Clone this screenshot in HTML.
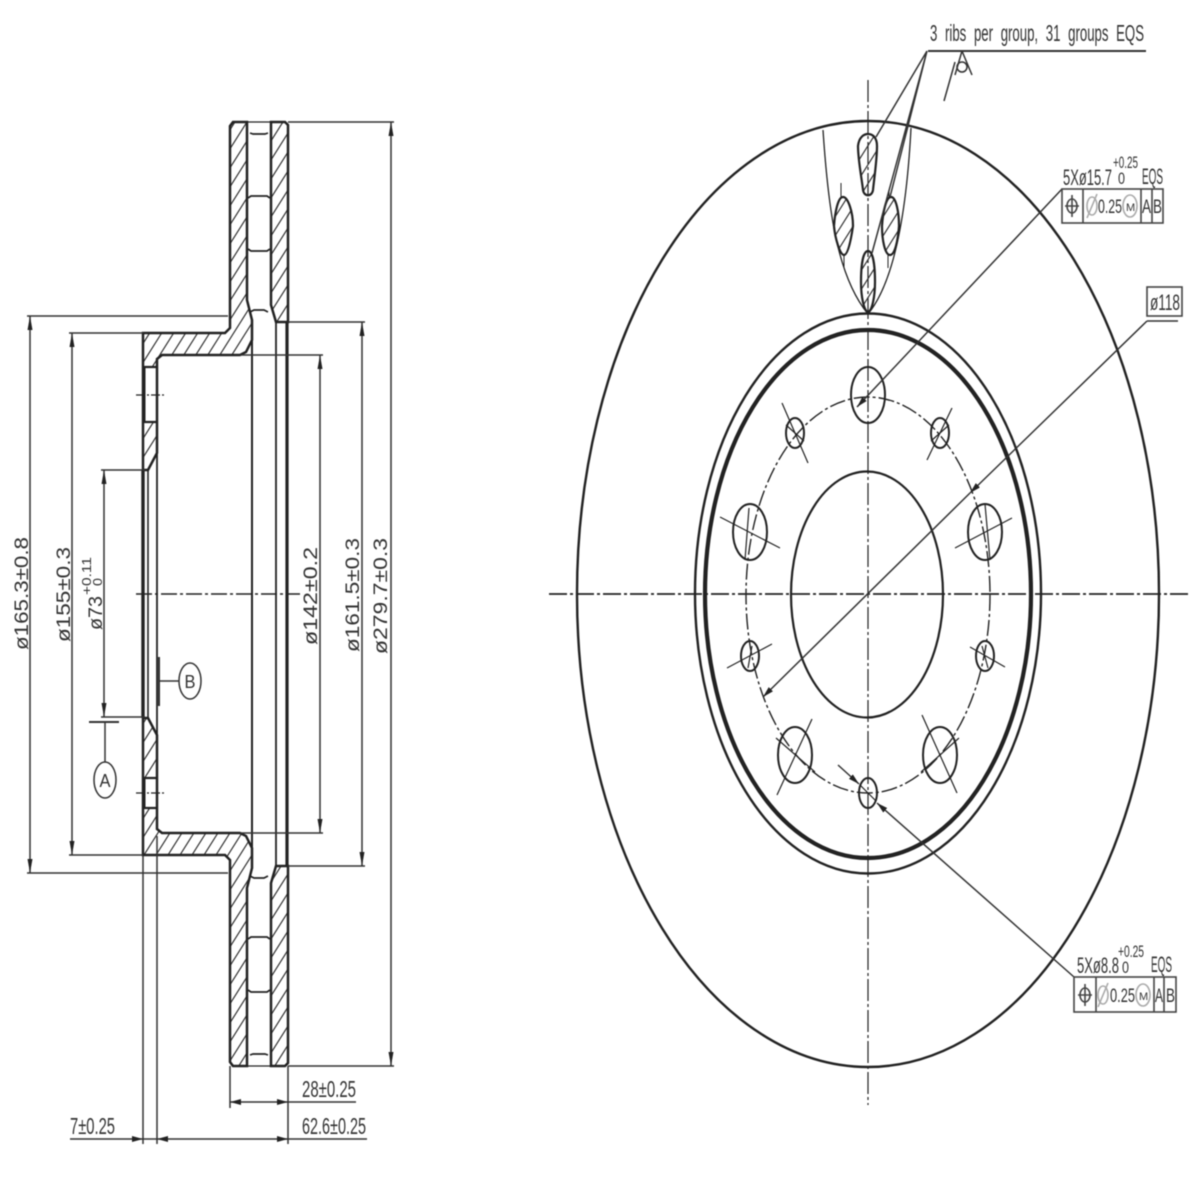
<!DOCTYPE html>
<html><head><meta charset="utf-8"><style>
html,body{margin:0;padding:0;background:#fff}
svg{display:block;filter:blur(.45px)}
text{font-family:"Liberation Sans",sans-serif;fill:#333}
</style></head><body>
<svg width="1200" height="1200" viewBox="0 0 1200 1200" xmlns="http://www.w3.org/2000/svg">
<defs>
<pattern id="h1" patternUnits="userSpaceOnUse" width="12" height="19"><path d="M-3,23.75L15,-4.75M-15,23.75L3,-4.75M9,23.75L27,-4.75" stroke="#333" stroke-width="1.2"/></pattern>
<marker id="v" viewBox="0 0 14 5" refX="14" refY="2.5" markerUnits="userSpaceOnUse" markerWidth="14" markerHeight="5" orient="auto-start-reverse"><path d="M0,0L14,2.5L0,5z" fill="#222"/></marker>
<marker id="d" viewBox="0 0 11 6" refX="11" refY="3" markerUnits="userSpaceOnUse" markerWidth="11" markerHeight="6" orient="auto-start-reverse"><path d="M0,0L11,3L0,6z" fill="#222"/></marker>
<g id="half" fill="none" stroke="#222">
 <path d="M230,126L233,122H247V300L252,320V340L246,352L240,355H162L157,359V453L148,470H143V333H225L230,328Z" stroke-width="2.5"/>
 <path d="M271,122H285L288,125V322H276L271,305V122Z" stroke-width="2.5"/>
 <path d="M247,122H271" stroke-width="1.2"/>
 <path d="M250,133L253,134H265L268,133M248,198L251,196H267L270,198M248,249L251,251H267L270,249M250,312L254,310H264L268,312" stroke-width="1.7"/>
</g>
</defs>

<!-- LEFT VIEW hatching -->
<g stroke="none">
 <path d="M230,126L233,122H247V300L252,320V340L246,352L240,355H162L157,359V367H143V333H225L230,328Z" fill="url(#h1)"/>
 <path d="M143,422H157V453L148,470H143Z" fill="url(#h1)"/>
 <path d="M271,122H285L288,125V322H276L271,305Z" fill="url(#h1)"/>
 <path d="M230,1062L233,1066H247V888L252,868V848L246,836L240,833H162L157,829V808H143V855H225L230,860Z" fill="url(#h1)"/>
 <path d="M143,778H157V735L148,718H143Z" fill="url(#h1)"/>
 <path d="M271,1066H285L288,1063V866H276L271,883Z" fill="url(#h1)"/>
</g>
<use href="#half"/>
<use href="#half" transform="translate(0,1188) scale(1,-1)"/>

<g fill="none" stroke="#222">
 <path d="M143,367H157M143,422H157M143,778H157M143,808H157" stroke-width="2.2"/>
 <path d="M144,367V422M144,778V808" stroke-width="3"/>
 <path d="M136,395H164M136,793H164" stroke-width="1.2" stroke-dasharray="9 2 2 2"/>
 <path d="M143,470V718" stroke-width="3.4"/>
 <path d="M148,470V718" stroke-width="1.6"/>
 <path d="M157,453V735" stroke-width="1.8"/>
 <path d="M252,340V848" stroke-width="2"/>
 <path d="M276,322V866" stroke-width="1.8"/>
 <path d="M287,322V866" stroke-width="3.2"/>
 <path d="M136,594H300" stroke-width="1.5" stroke-dasharray="16 3 3 3"/>
</g>

<!-- left dims -->
<g fill="none" stroke="#333" stroke-width="1.5">
 <path d="M288,122H394M288,1066H394M288,322H365M288,866H365M240,355H323M240,833H323"/>
 <path d="M27,316H228M27,873H228M69,333H143M69,855H143M101,470H145M101,717H145"/>
 <path d="M391,122V1066" marker-start="url(#v)" marker-end="url(#v)"/>
 <path d="M362,322V866" marker-start="url(#v)" marker-end="url(#v)"/>
 <path d="M320,355V833" marker-start="url(#v)" marker-end="url(#v)"/>
 <path d="M30,316V873" marker-start="url(#v)" marker-end="url(#v)"/>
 <path d="M72,333V855" marker-start="url(#v)" marker-end="url(#v)"/>
 <path d="M104,470V717" marker-start="url(#v)" marker-end="url(#v)"/>
 <path d="M89,722H119" stroke-width="2"/>
 <path d="M105,722V762"/>
 <ellipse cx="105" cy="780" rx="11" ry="18" stroke-width="1.5"/>
 <path d="M159,657V706" stroke-width="2"/>
 <path d="M159,681H179"/>
 <ellipse cx="190" cy="681" rx="11" ry="18" stroke-width="1.5"/>
 <path d="M143,856V1144M157,836V1144M230,1066V1108M288,1066V1144"/>
 <path d="M230,1102H288" marker-start="url(#d)" marker-end="url(#d)"/>
 <path d="M288,1102H356"/>
 <path d="M157,1139H288" marker-start="url(#d)" marker-end="url(#d)"/>
 <path d="M288,1139H367"/>
 <path d="M70,1139H143" marker-end="url(#d)"/>
 <path d="M143,1139H157"/>
</g>
<g font-size="23">
 <text x="302" y="1097" textLength="54" lengthAdjust="spacingAndGlyphs">28±0.25</text>
 <text x="302" y="1134" textLength="64" lengthAdjust="spacingAndGlyphs">62.6±0.25</text>
 <text x="70" y="1134" textLength="45" lengthAdjust="spacingAndGlyphs">7±0.25</text>
</g>
<g font-size="19">
 <text transform="translate(28,650) rotate(-90)" textLength="113" lengthAdjust="spacingAndGlyphs">ø165.3±0.8</text>
 <text transform="translate(70,642) rotate(-90)" textLength="95" lengthAdjust="spacingAndGlyphs">ø155±0.3</text>
 <text transform="translate(102,630) rotate(-90)" textLength="34" lengthAdjust="spacingAndGlyphs">ø73</text>
 <text transform="translate(91,595) rotate(-90)" font-size="13" textLength="38" lengthAdjust="spacingAndGlyphs">+0.11</text>
 <text transform="translate(102,586) rotate(-90)" font-size="13" textLength="8" lengthAdjust="spacingAndGlyphs">0</text>
 <text transform="translate(317,645) rotate(-90)" textLength="98" lengthAdjust="spacingAndGlyphs">ø142±0.2</text>
 <text transform="translate(359,652) rotate(-90)" textLength="114" lengthAdjust="spacingAndGlyphs">ø161.5±0.3</text>
 <text transform="translate(387,654) rotate(-90)" textLength="116" lengthAdjust="spacingAndGlyphs">ø279.7±0.3</text>
</g>
<text x="105" y="787" font-size="18" text-anchor="middle" textLength="11" lengthAdjust="spacingAndGlyphs">A</text>
<text x="190" y="688" font-size="18" text-anchor="middle" textLength="11" lengthAdjust="spacingAndGlyphs">B</text>

<!-- RIGHT VIEW -->
<g fill="none" stroke="#222">
 <ellipse cx="868" cy="594" rx="291" ry="473" stroke-width="2.4"/>
 <ellipse cx="868" cy="593.5" rx="173" ry="280" stroke-width="2.4"/>
 <ellipse cx="868" cy="594" rx="163" ry="264" stroke-width="4.2"/>
 <ellipse cx="867" cy="594.5" rx="76" ry="123" stroke-width="2.2"/>
 <ellipse cx="868" cy="595" rx="122" ry="198" stroke-width="1.4" stroke-dasharray="16 3 3 3"/>
 <path d="M549,594H1190" stroke-width="1.8" stroke-dasharray="18 3 3 3"/>
 <path d="M868,80V1105" stroke-width="1.2" stroke-dasharray="22 3 3 3"/>
 <g stroke-width="2">
  <ellipse cx="868" cy="395" rx="17" ry="28"/>
  <ellipse cx="750" cy="532" rx="17" ry="28"/>
  <ellipse cx="985" cy="532" rx="17" ry="28"/>
  <ellipse cx="795" cy="755" rx="17" ry="28"/>
  <ellipse cx="940" cy="755" rx="17" ry="28"/>
  <ellipse cx="795" cy="433" rx="9" ry="15"/>
  <ellipse cx="940" cy="433" rx="9" ry="15"/>
  <ellipse cx="750" cy="656" rx="9" ry="15"/>
  <ellipse cx="985" cy="656" rx="9" ry="15"/>
  <ellipse cx="868" cy="793" rx="9" ry="15"/>
 </g>
 <g stroke-width="1.2">
  <path d="M720,517L780,548M955,548L1012,518M782,403L808,463M952,408L927,460M727,668L772,644M970,647L1005,667M812,719L777,795M922,715L957,793"/>
  <path d="M749,508L745,560M985,504L990,560M786,425L804,441M949,425L931,441M752,646L748,668M982,646L988,668M776,738L815,772M959,738L921,772M860,785L876,801"/>
 </g>
 <!-- rib region -->
 <path d="M823,130C828,205 836,275 868,314C896,280 907,205 911,128" stroke-width="1.3"/>
 <g stroke-width="2.2" fill="url(#h1)">
  <path d="M858,146C859,137 864,134 868,134C873,134 877,138 877,146C877,160 874,180 873,190C872,197 864,197 863,190C862,180 858,160 858,146Z"/>
  <path d="M843,197C848,197 853,212 853,226C851,240 848,255 844,255C840,255 835,238 834,226C835,212 838,197 843,197Z"/>
  <path d="M891,197C896,197 899,212 899,226C898,240 895,255 890,255C885,255 882,240 882,226C883,212 886,197 891,197Z"/>
  <path d="M868,251C873,251 875,265 875,282C875,297 872,311 868,312C864,311 861,297 861,282C861,265 863,251 868,251Z"/>
 </g>
 <path d="M841,183V197M844,255V268M889,190V197M888,255V268" stroke-width="1"/>
 <!-- leaders -->
 <g stroke="#333" stroke-width="1.5">
  <path d="M928,51H1146" stroke-width="2"/>
  <path d="M927,51L876,137M927,51L890,197M927,51L872,253"/>
  <path d="M962,51L972,75M962,51L955,75M955,62L944,101"/>
  <circle cx="962" cy="67" r="5"/>
  <path d="M1062,189L857,407" marker-end="url(#d)"/>
  <path d="M1147,321H1178"/>
  <path d="M1147,321L970,493" marker-end="url(#d)"/>
  <path d="M970,493L763,697" marker-end="url(#d)"/>
  <path d="M1074,977L877,803" marker-end="url(#d)"/>
  <path d="M838,765L859,784" marker-end="url(#d)"/>
 </g>
 <!-- FCF -->
 <g stroke="#444" stroke-width="1.6">
  <rect x="1062" y="189" width="101" height="34"/>
  <path d="M1083,189V223M1141,189V223M1152,189V223"/>
  <ellipse cx="1072" cy="206" rx="5" ry="7"/>
  <path d="M1072,195V217M1065,206H1079"/>
  <ellipse cx="1130" cy="206" rx="7" ry="11" stroke="#aaa"/>
  <path d="M1087,218L1097,194" stroke="#aaa"/>
  <ellipse cx="1092" cy="206" rx="5" ry="9" stroke="#aaa"/>
  <rect x="1074" y="977" width="102" height="35"/>
  <path d="M1096,977V1012M1154,977V1012M1164,977V1012"/>
  <ellipse cx="1085" cy="995" rx="5" ry="7"/>
  <path d="M1085,984V1006M1078,995H1092"/>
  <ellipse cx="1143" cy="995" rx="7" ry="11" stroke="#aaa"/>
  <path d="M1098,1007L1108,983" stroke="#aaa"/>
  <ellipse cx="1103" cy="995" rx="5" ry="9" stroke="#aaa"/>
  <rect x="1147" y="287" width="35" height="29"/>
 </g>
</g>
<text x="930" y="41" font-size="23" word-spacing="7" textLength="214" lengthAdjust="spacingAndGlyphs">3 ribs per group, 31 groups EQS</text>
<g font-size="22">
 <text x="1063" y="185" textLength="49" lengthAdjust="spacingAndGlyphs">5Xø15.7</text>
 <text x="1142" y="184" textLength="21" lengthAdjust="spacingAndGlyphs">EQS</text>
 <text x="1118" y="184" textLength="7" font-size="17" lengthAdjust="spacingAndGlyphs">0</text>
 <text x="1113" y="168" font-size="17" textLength="25" lengthAdjust="spacingAndGlyphs">+0.25</text>
 <text x="1077" y="973" textLength="42" lengthAdjust="spacingAndGlyphs">5Xø8.8</text>
 <text x="1151" y="972" textLength="21" lengthAdjust="spacingAndGlyphs">EQS</text>
 <text x="1122" y="973" textLength="7" font-size="17" lengthAdjust="spacingAndGlyphs">0</text>
 <text x="1118" y="957" font-size="17" textLength="26" lengthAdjust="spacingAndGlyphs">+0.25</text>
</g>
<g font-size="19">
 <text x="1098" y="213" textLength="24" lengthAdjust="spacingAndGlyphs">0.25</text>
 <text x="1142" y="213" textLength="9" lengthAdjust="spacingAndGlyphs">A</text>
 <text x="1153" y="213" textLength="9" lengthAdjust="spacingAndGlyphs">B</text>
 <text x="1110" y="1002" textLength="25" lengthAdjust="spacingAndGlyphs">0.25</text>
 <text x="1155" y="1002" textLength="8" lengthAdjust="spacingAndGlyphs">A</text>
 <text x="1166" y="1002" textLength="9" lengthAdjust="spacingAndGlyphs">B</text>
 <text x="1126" y="211" font-size="11" fill="#999">M</text>
 <text x="1139" y="1000" font-size="11" fill="#999">M</text>
 <text x="1150" y="310" font-size="22" textLength="30" lengthAdjust="spacingAndGlyphs">ø118</text>
</g>
</svg>
</body></html>
